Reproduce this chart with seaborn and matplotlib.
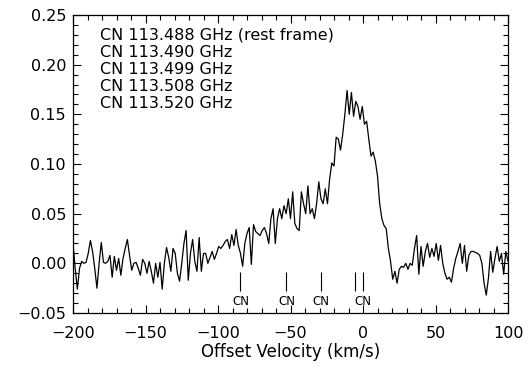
import numpy as np
import matplotlib
matplotlib.use("Agg")
import matplotlib.pyplot as plt
from matplotlib.ticker import MultipleLocator
import seaborn as sns

# CN spectrum, channels evenly spaced from -200 to +100 km/s
intensity = np.array([
    # -200 .. -68 km/s
    0.020, -0.005, -0.026, -0.005, 0.002, 0.000, 0.001, 0.010, 0.023, 0.012,
    -0.005, -0.025, 0.000, 0.021, 0.001, 0.000, 0.002, 0.008, -0.014, 0.007,
    -0.007, 0.005, -0.012, 0.005, 0.015, 0.024, 0.008, -0.007, 0.000, 0.001,
    -0.005, -0.012, 0.004, 0.000, -0.010, 0.002, -0.008, -0.020, 0.000, -0.014,
    0.001, -0.026, 0.000, 0.016, 0.006, -0.008, 0.015, 0.010, -0.010, -0.018,
    0.000, 0.020, 0.033, -0.017, 0.010, 0.024, 0.002, -0.008, 0.026, -0.008,
    0.010, 0.010, 0.000, 0.006, 0.012, 0.004, 0.010, 0.017, 0.015, 0.018,
    0.022, 0.024, 0.015, 0.029, 0.018, 0.034, 0.018, 0.010, -0.003, 0.020,
    0.030, 0.036, -0.001, 0.039, 0.032, 0.030, 0.028, 0.033, 0.036,
    # -66.5 .. -23 km/s
    0.030, 0.020, 0.045, 0.055, 0.020, 0.045, 0.055, 0.045, 0.058, 0.050,
    0.065, 0.045, 0.072, 0.040, 0.035, 0.033, 0.072, 0.060, 0.050, 0.078,
    0.050, 0.055, 0.045, 0.060, 0.082, 0.065, 0.060, 0.075, 0.060, 0.085,
    # -21.5 .. 100 km/s
    0.101, 0.098, 0.127, 0.125, 0.114, 0.130, 0.150, 0.174, 0.150, 0.172,
    0.148, 0.163, 0.158, 0.145, 0.158, 0.140, 0.143, 0.125, 0.108, 0.112,
    0.103, 0.088, 0.060, 0.045, 0.038, 0.035, 0.015, 0.002, -0.016, -0.008,
    -0.020, -0.006, -0.003, -0.004, 0.000, -0.006, 0.000, -0.002, 0.015, 0.028,
    -0.011, 0.017, -0.003, 0.012, 0.020, 0.006, 0.015, 0.007, 0.020, 0.003,
    0.018, 0.000, -0.010, -0.016, -0.014, -0.019, -0.005, 0.005, 0.012, 0.020,
    0.000, 0.018, -0.008, 0.008, 0.012, 0.012, 0.011, 0.010, 0.008, 0.000,
    -0.020, -0.032, -0.015, 0.012, -0.009, 0.005, 0.017, 0.002, 0.010, -0.011,
    0.012, 0.002,
])
velocity = np.linspace(-200, 100, intensity.size)

# CN hyperfine components and their velocity offsets from 113.488 GHz
cn_freqs = ["113.488", "113.490", "113.499", "113.508", "113.520"]
cn_velocity = [0.0, -5.3, -29.1, -52.8, -84.5]
cn_label_velocity = [0.0, -29.1, -52.8, -84.5]

sns.set_style("ticks")
plt.rcParams["font.family"] = ["DejaVu Sans"]
plt.rcParams.update({
    "text.color": "black",
    "axes.labelcolor": "black",
    "xtick.color": "black",
    "ytick.color": "black",
    "axes.edgecolor": "black",
})

fig = plt.figure(figsize=(5.30, 3.71), dpi=100)
ax = fig.add_axes([73 / 530, 1 - 313 / 371, 435 / 530, 298 / 371])

sns.lineplot(x=velocity, y=intensity, color="black", linewidth=0.9, ax=ax)

# component markers
ax.vlines(cn_velocity, -0.009, -0.028, color="black", linewidth=0.8)
for v in cn_label_velocity:
    ax.text(v, -0.038, "CN", ha="center", va="center", fontsize=8.5)

# line list
for i, f in enumerate(cn_freqs):
    txt = f"CN {f} GHz" + (" (rest frame)" if i == 0 else "")
    ax.text(0.062, 0.933 - i * 0.0577, txt, transform=ax.transAxes,
            ha="left", va="center", fontsize=11.5)

ax.set_xlim(-200, 100)
ax.set_ylim(-0.05, 0.25)
ax.xaxis.set_major_locator(MultipleLocator(50))
ax.xaxis.set_minor_locator(MultipleLocator(10))
ax.yaxis.set_major_locator(MultipleLocator(0.05))
ax.yaxis.set_minor_locator(MultipleLocator(0.01))
ax.yaxis.set_major_formatter(plt.FuncFormatter(lambda y, _: f"{y:.2f}".replace("-", "\u2212")))
ax.xaxis.set_major_formatter(plt.FuncFormatter(lambda x, _: f"{x:.0f}".replace("-", "\u2212")))

ax.tick_params(which="both", direction="in", top=True, right=True, color="black")
ax.tick_params(which="major", length=5.5, width=0.8, labelsize=11.5)
ax.tick_params(axis="x", which="major", pad=9)
ax.tick_params(axis="y", which="major", pad=5)
ax.tick_params(which="minor", length=3.5, width=0.8)
for s in ax.spines.values():
    s.set_linewidth(0.9)
    s.set_color("black")

ax.set_xlabel("Offset Velocity (km/s)", fontsize=12, labelpad=2)
ax.set_ylabel("")

fig.savefig("out.png", dpi=100)
